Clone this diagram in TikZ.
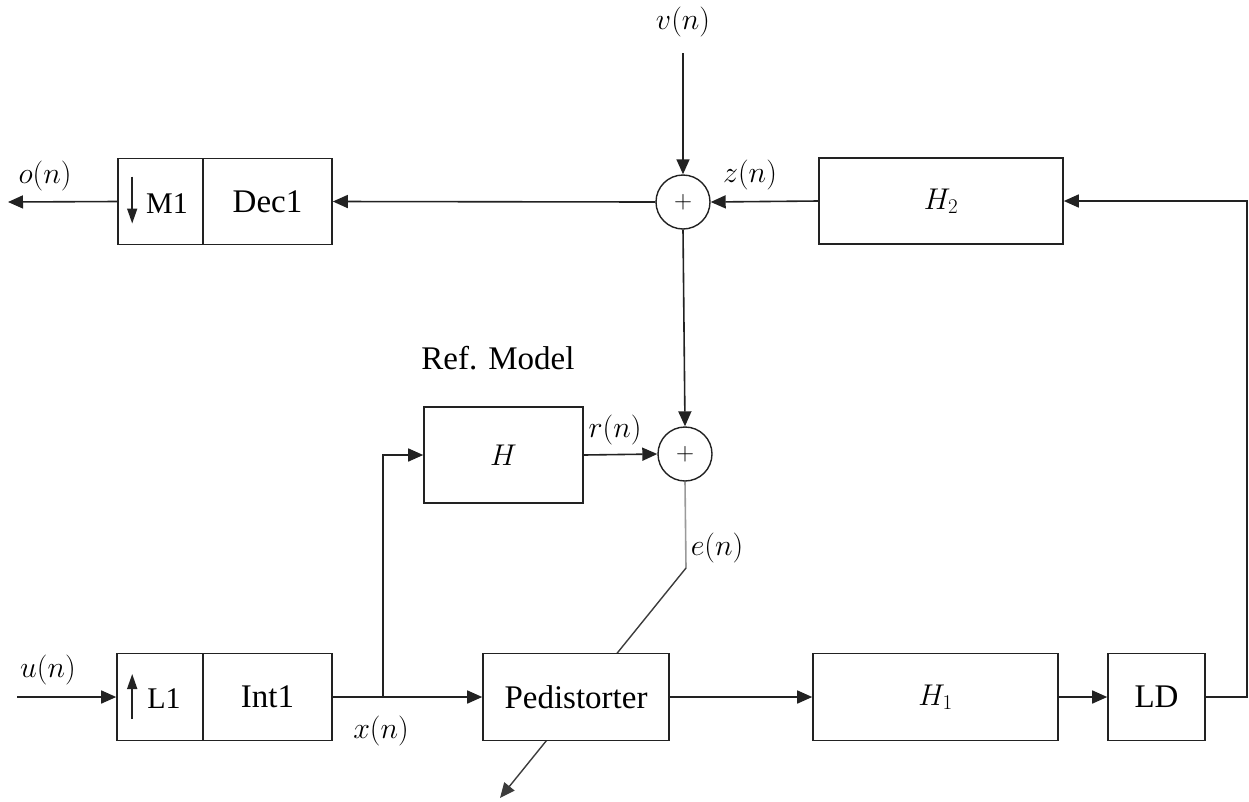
\RequirePackage{fix-cm}
\documentclass[tikz,border=0pt]{standalone}
\usepackage[no-math]{fontspec}
\setmainfont{Liberation Serif}
\usetikzlibrary{arrows.meta,calc,backgrounds}
\definecolor{linec}{HTML}{222222}
\definecolor{elinec}{HTML}{9A9A9A}
\definecolor{dlinec}{HTML}{3C3C3C}
\newcommand{\txtfont}{\fontsize{33}{38}\selectfont}
\newcommand{\smtxtfont}{\fontsize{30}{34}\selectfont}
\newcommand{\mathfont}{\fontsize{30}{34}\selectfont}
\begin{document}
\begin{tikzpicture}[x=1pt,y=-1pt,
  cell/.style={draw=linec,line width=1.6pt,fill=white,inner sep=0pt,
    minimum height=86pt,font=\txtfont},
  mcell/.style={cell,font=\mathfont},
  sumnode/.style={circle,draw=linec,line width=1.4pt,fill=white,inner sep=0pt,
    minimum size=54pt,font=\fontsize{25}{28}\selectfont},
  lbl/.style={inner sep=0pt,font=\mathfont},
  tlbl/.style={inner sep=0pt,font=\txtfont},
  sig/.style={draw=linec,line width=1.6pt},
  arr/.style={sig,-{Triangle[length=15pt,width=13pt]}},
  iconarr/.style={draw=linec,line width=1.6pt,-{Triangle[length=15pt,width=10pt]}},
]
\useasboundingbox (0,0) rectangle (1249,801);

% ---- upper branch: decimator, summing point, H2 ----
\node[cell,minimum width=85pt] (m1) at (160.5,201.5) {};
\node[tlbl,font=\smtxtfont] (m1t) at (167,204) {M1};
\node[cell,minimum width=129pt] (dec) at (267.5,201.5) {Dec1};
\node[sumnode] (s1) at (683,202) {$+$};
\node[mcell,minimum width=244pt] (h2) at (941,201) {$H_2$};

% ---- reference model ----
\node[tlbl] (refm) at (498,358) {Ref. Model};
\node[mcell,minimum width=159pt,minimum height=96pt] (h) at (503.5,455) {$H$};
\node[sumnode] (s2) at (685,454) {$+$};

% ---- lower branch: interpolator, predistorter, H1, LD ----
\node[cell,minimum width=86pt,minimum height=87pt] (l1) at (160,697) {};
\node[tlbl,font=\smtxtfont] (l1t) at (164,699) {L1};
\node[cell,minimum width=129pt,minimum height=87pt] (int) at (267.5,697) {Int1};
\node[cell,minimum width=186pt,minimum height=87pt] (ped) at (576,697) {Pedistorter};
\node[mcell,minimum width=245pt,minimum height=87pt] (h1) at (935.5,697) {$H_1$};
\node[cell,minimum width=97pt,minimum height=87pt] (ld) at (1156.5,697) {LD};

% ---- signal labels ----
\node[lbl] (on) at (45,176) {$o(n)$};
\node[lbl] (vn) at (683,22) {$v(n)$};
\node[lbl] (zn) at (750,175) {$z(n)$};
\node[lbl] (rn) at (615,430) {$r(n)$};
\node[lbl] (en) at (717,548) {$e(n)$};
\node[lbl] (un) at (48,670) {$u(n)$};
\node[lbl] (xn) at (381,731) {$x(n)$};

% free ends and bends
\coordinate (oout) at (8,202);
\coordinate (vin) at (683,53);
\coordinate (uin) at (17,697);
\coordinate (br) at (383,697);
\coordinate (fb) at (1247,697);
\coordinate (ebend) at (686,568);
\coordinate (etip) at (500,798);

% rate-change icons inside the first cells
\draw[iconarr] ($(m1.west)+(15,-25)$) -- ($(m1.west)+(15,22)$);
\draw[iconarr] ($(l1.west)+(16,22)$) -- ($(l1.west)+(16,-23)$);

% ---- connectors ----
\draw[arr] (m1.west) -- (oout);
\draw[arr] (s1.west) -- (dec.east);
\draw[arr] (vin) -- (s1.north);
\draw[arr] (h2.west) -- (s1.east);
\draw[arr] (ld.east) -- (fb) |- (h2.east);
\draw[arr] (s1.south) -- (s2.north);
\draw[arr] (h.east) -- (s2.west);
\draw[arr] (uin) -- (l1.west);
\draw[arr] (int.east) -- (ped.west);
\draw[arr] (br) |- (h.west);
\draw[arr] (ped.east) -- (h1.west);
\draw[arr] (h1.east) -- (ld.west);

% error path and adaptation arrow through the predistorter
\begin{scope}[on background layer]
  \draw[draw=elinec,line width=1.6pt] (s2.south) -- (ebend);
  \draw[draw=dlinec,line width=1.4pt,-{Triangle[length=15pt,width=13pt]}] (ebend) -- (etip);
\end{scope}
\end{tikzpicture}
\end{document}
